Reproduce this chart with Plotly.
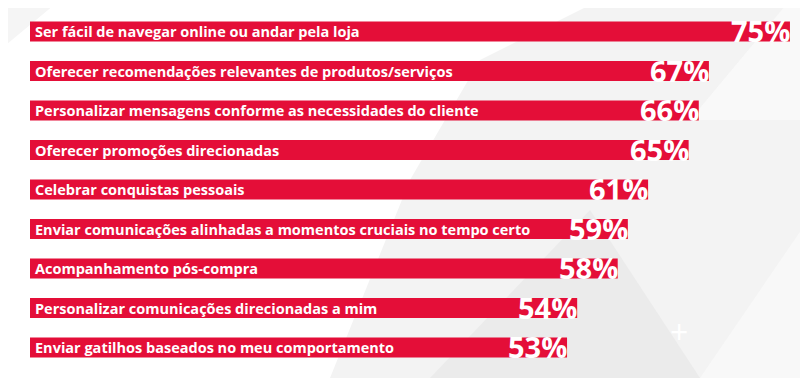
import plotly.graph_objects as go

categories = [
    "Ser fácil de navegar online ou andar pela loja",
    "Oferecer recomendações relevantes de produtos/serviços",
    "Personalizar mensagens conforme as necessidades do cliente",
    "Oferecer promoções direcionadas",
    "Celebrar conquistas pessoais",
    "Enviar comunicações alinhadas a momentos cruciais no tempo certo",
    "Acompanhamento pós-compra",
    "Personalizar comunicações direcionadas a mim",
    "Enviar gatilhos baseados no meu comportamento",
]
values = [75, 67, 66, 65, 61, 59, 58, 54, 53]
value_labels = [f"{v}%" for v in values]

RED = "#E40E38"
FONT = "Open Sans"

# page body has an 8px margin; figure is sized to fill the rest of the window
OFF = 8
W, H = 800, 370
ML, MR, MT, MB = 22, 0, 3, 8
PW, PH = W - ML - MR, H - MT - MB

def pxy(sx, sy):
    return (sx - OFF - ML) / PW, 1 - (sy - OFF - MT) / PH

def px(sx, sy):
    a, b = pxy(sx, sy)
    return f"{a:.4f},{b:.4f}"

fig = go.Figure()
fig.add_trace(go.Bar(
    x=values, y=categories, orientation="h",
    marker=dict(color=RED, line=dict(width=0)),
    hoverinfo="skip", showlegend=False,
))

annotations = []
for c, v, lab in zip(categories, values, value_labels):
    annotations.append(dict(
        x=0, y=c, xref="x", yref="y", text=f"<b>{c}</b>", showarrow=False,
        xanchor="left", yanchor="middle", xshift=3, yshift=0,
        font=dict(family=FONT, size=14.5, color="white"),
    ))
    annotations.append(dict(
        x=v, y=c, xref="x", yref="y", text=f"<b>{lab}</b>", showarrow=False,
        xanchor="right", yanchor="middle", xshift=2, yshift=1,
        font=dict(family=FONT, size=29, color="white"),
    ))

shapes = [
    dict(type="path", xref="paper", yref="paper", layer="below", line=dict(width=0),
         fillcolor="#f5f5f5",
         path=f"M {px(0,0)} L {px(60,0)} L {px(0,50)} Z"),
    dict(type="path", xref="paper", yref="paper", layer="below", line=dict(width=0),
         fillcolor="#f3f3f3",
         path=f"M {px(600,0)} L {px(808,0)} L {px(808,378)} L {px(330,378)} "
              f"L {px(410,180)} L {px(480,60)} Z"),
    dict(type="path", xref="paper", yref="paper", layer="below", line=dict(width=0),
         fillcolor="#f9f9f9",
         path=f"M {px(790,0)} L {px(808,0)} L {px(808,120)} L {px(690,120)} Z"),
    dict(type="path", xref="paper", yref="paper", layer="below", line=dict(width=0),
         fillcolor="#ebebeb",
         path=f"M {px(430,378)} L {px(590,210)} L {px(700,378)} Z"),
    dict(type="path", xref="paper", yref="paper", layer="below", line=dict(width=0),
         fillcolor="#f8f8f8",
         path=f"M {px(808,220)} L {px(808,378)} L {px(700,378)} Z"),
]

fig.update_layout(
    width=W, height=H,
    margin=dict(l=ML, r=MR, t=MT, b=MB, pad=0),
    paper_bgcolor="white", plot_bgcolor="rgba(0,0,0,0)",
    bargap=0.49,
    xaxis=dict(range=[0, 76.78], visible=False, fixedrange=True),
    yaxis=dict(categoryorder="array", categoryarray=categories,
               autorange="reversed", visible=False, fixedrange=True),
    annotations=annotations,
    shapes=shapes,
    font=dict(family=FONT),
)
plus_x, plus_y = pxy(679, 333)
fig.add_annotation(x=plus_x, y=plus_y, xref="paper", yref="paper", text="+",
                   showarrow=False, xshift=11, yshift=-22,
                   font=dict(family=FONT, size=32, color="white"))

fig.write_html("out.html")
